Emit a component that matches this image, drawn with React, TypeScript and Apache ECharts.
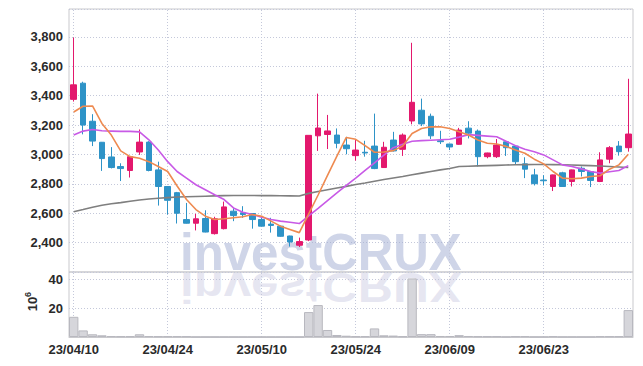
import React, { useEffect, useRef } from 'react';
import * as echarts from 'echarts';

const dates = [
  '23/04/10','23/04/11','23/04/12','23/04/13','23/04/14','23/04/17','23/04/18','23/04/19','23/04/20','23/04/21',
  '23/04/24','23/04/25','23/04/26','23/04/27','23/04/28','23/05/02','23/05/03','23/05/04','23/05/08','23/05/09',
  '23/05/10','23/05/11','23/05/12','23/05/15','23/05/16','23/05/17','23/05/18','23/05/19','23/05/22','23/05/23',
  '23/05/24','23/05/25','23/05/26','23/05/30','23/05/31','23/06/01','23/06/02','23/06/05','23/06/07','23/06/08',
  '23/06/09','23/06/12','23/06/13','23/06/14','23/06/15','23/06/16','23/06/19','23/06/20','23/06/21','23/06/22',
  '23/06/23','23/06/26','23/06/27','23/06/28','23/06/29','23/06/30','23/07/03','23/07/04','23/07/05','23/07/06',
];

const opens = [
  3375, 3485, 3226, 3083, 2983, 2918, 2891, 3017, 3084, 2895,
  2782, 2740, 2557, 2532, 2564, 2461, 2495, 2614, 2603, 2598,
  2557, 2526, 2512, 2445, 2382, 2418, 3127, 3136, 3132, 3064,
  2992, 3015, 3057, 2911, 3098, 3035, 3228, 3301, 3260, 3093,
  3071, 3069, 3179, 3159, 2985, 2985, 3086, 3057, 2936, 2861,
  2826, 2782, 2875, 2816, 2906, 2884, 2816, 2968, 3057, 3046,
];
const closes = [
  3474, 3200, 3091, 2972, 2911, 2904, 2985, 3084, 2891, 2782,
  2688, 2600, 2532, 2562, 2472, 2562, 2643, 2584, 2591, 2557,
  2512, 2517, 2443, 2404, 2407, 3130, 3180, 3160, 3076, 3039,
  3030, 3010, 2904, 3049, 3024, 3132, 3355, 3208, 3127, 3087,
  3051, 3166, 3145, 2985, 3010, 3064, 3046, 2951, 2900, 2801,
  2821, 2861, 2782, 2895, 2884, 2823, 2963, 3046, 3019, 3139,
];
const lows = [
  3360, 3137, 3057, 2888, 2905, 2819, 2843, 2997, 2885, 2652,
  2591, 2530, 2530, 2483, 2470, 2455, 2490, 2546, 2569, 2495,
  2510, 2468, 2440, 2373, 2370, 2410, 3024, 3037, 3042, 3001,
  2958, 2985, 2900, 2908, 3020, 2990, 3205, 3193, 3105, 3071,
  3030, 3066, 3109, 2918, 2974, 2976, 2990, 2929, 2839, 2789,
  2789, 2751, 2780, 2782, 2850, 2778, 2812, 2940, 2992, 3019,
];
const highs = [
  3796, 3495, 3274, 3085, 3050, 2940, 2990, 3170, 3090, 2951,
  2785, 2745, 2670, 2596, 2620, 2576, 2679, 2636, 2648, 2600,
  2580, 2569, 2515, 2447, 2434, 3130, 3414, 3269, 3177, 3120,
  3098, 3093, 3278, 3086, 3154, 3143, 3760, 3380, 3278, 3161,
  3073, 3181, 3226, 3170, 3012, 3105, 3090, 3060, 2981, 2902,
  2859, 2863, 2882, 2897, 2918, 2886, 3015, 3057, 3091, 3515,
];

// volume in millions of shares
const volumes = [
  14.1, 4.6, 1.9, 1.2, 0.6, 0.5, 0.5, 1.9, 0.6, 0.5,
  0.5, 0.5, 0.4, 0.05, 0.05, 0.05, 0.05, 0.05, 0.05, 0.05,
  0.05, 0.05, 0.05, 0.05, 0.05, 17.4, 22.3, 4.9, 1.4, 0.9,
  0.5, 0.5, 6.0, 1.2, 1.0, 0.5, 40.9, 2.0, 2.0, 0.7,
  0.7, 1.3, 0.7, 0.5, 0.4, 0.4, 0.1, 0.5, 0.5, 0.1,
  0.1, 0.4, 0.1, 0.1, 0.1, 0.1, 0.5, 0.5, 0.5, 18.8,
];

const maShort = [
  3289, 3328, 3330, 3211, 3132, 3024, 2985, 2974, 2951, 2918,
  2884, 2785, 2693, 2625, 2580, 2557, 2562, 2569, 2576, 2591,
  2580, 2546, 2512, 2490, 2468, 2596, 2724, 2857, 2988, 3116,
  3103, 3060, 3015, 3017, 3026, 3057, 3143, 3177, 3188, 3188,
  3177, 3154, 3132, 3098, 3076, 3071, 3055, 3030, 3008, 2968,
  2936, 2884, 2839, 2835, 2839, 2850, 2855, 2900, 2929, 3001,
];
const maMid = [
  3132, 3159, 3170, 3161, 3159, 3157, 3157, 3154, 3100, 3030,
  2951, 2884, 2839, 2794, 2760, 2726, 2693, 2636, 2607, 2591,
  2573, 2557, 2546, 2539, 2530, 2582, 2633, 2686, 2738, 2789,
  2839, 2891, 2943, 2995, 3046, 3070, 3090, 3094, 3097, 3100,
  3103, 3118, 3135, 3130, 3125, 3120, 3090, 3060, 3035, 3019,
  2997, 2963, 2929, 2918, 2902, 2884, 2873, 2882, 2891, 2924,
];
const maLong = [
  2610, 2625, 2641, 2654, 2664, 2672, 2681, 2690, 2697, 2702,
  2706, 2710, 2712, 2714, 2716, 2718, 2720, 2721, 2721, 2721,
  2720, 2720, 2719, 2718, 2717, 2735, 2748, 2760, 2772, 2783,
  2795, 2806, 2818, 2830, 2840, 2850, 2862, 2873, 2884, 2895,
  2905, 2918, 2920, 2922, 2924, 2926, 2928, 2930, 2931, 2932,
  2932, 2931, 2930, 2928, 2926, 2924, 2921, 2918, 2915, 2911,
];

const guideDates = ['23/04/10', '23/04/24', '23/05/10', '23/05/24', '23/06/09', '23/06/23'];

const UP = '#e3186d';
const DOWN = '#2e93c7';
const GRID_LINE = '#c4c8da';
const BORDER = '#c9c9cd';
const FONT = 'Liberation Sans, Arial, sans-serif';

export default function App() {
  const ref = useRef<HTMLDivElement>(null);

  useEffect(() => {
    const chart = echarts.init(ref.current as HTMLDivElement, null, { renderer: 'svg' });
    const labelStyle = { fontFamily: FONT, fontSize: 13, fontWeight: 'bold' as const, color: '#2a2a2a' };
    const dotted = { type: [1, 2] as any, color: GRID_LINE, width: 1 };
    const guideLine = {
      silent: true,
      symbol: 'none',
      z: 1,
      label: { show: false },
      lineStyle: dotted,
      emphasis: { disabled: true },
      data: guideDates.map((d) => ({ xAxis: d })),
    };

    chart.setOption({
      animation: false,
      grid: [
        { left: 69, right: 10, top: 9, height: 263, show: true, borderColor: BORDER, borderWidth: 1 },
        { left: 69, right: 10, top: 272, height: 65, show: true, borderColor: BORDER, borderWidth: 1 },
      ],
      xAxis: [
        {
          type: 'category', data: dates, gridIndex: 0, boundaryGap: true,
          axisLine: { show: false }, axisTick: { show: false }, axisLabel: { show: false }, splitLine: { show: false },
        },
        {
          type: 'category', data: dates, gridIndex: 1, boundaryGap: true,
          axisLine: { show: true, lineStyle: { color: BORDER } }, axisTick: { show: false },
          axisLabel: { interval: 9, margin: 6, ...labelStyle },
          splitLine: { show: false },
        },
      ],
      yAxis: [
        {
          type: 'value', gridIndex: 0, min: 2200, max: 3990, interval: 200,
          axisLine: { show: false }, axisTick: { show: false },
          axisLabel: {
            margin: 6, showMinLabel: false, showMaxLabel: false, ...labelStyle,
            formatter: (v: number) => v.toLocaleString('en-US'),
          },
          splitLine: { show: true, lineStyle: dotted },
        },
        {
          type: 'value', gridIndex: 1, min: 0, max: 45.4, interval: 20,
          axisLine: { show: false }, axisTick: { show: false },
          axisLabel: { margin: 6, showMinLabel: false, showMaxLabel: false, ...labelStyle },
          splitLine: { show: true, lineStyle: dotted },
        },
      ],
      graphic: {
        elements: [
          {
            type: 'text', x: 180, y: 252.5, scaleX: 0.965, z: 1, silent: true,
            style: {
              text: 'investCRUX', fontFamily: FONT, fontWeight: 'bold', fontSize: 51,
              fill: 'rgba(160,172,210,0.5)', textAlign: 'left', textVerticalAlign: 'middle',
            },
          },
          {
            type: 'text', x: 180, y: 272.5, scaleX: 0.965, scaleY: -0.85, z: 1, silent: true,
            style: {
              text: 'investCRUX', x: 0, y: -17.7, fontFamily: FONT, fontWeight: 'bold', fontSize: 51,
              fill: 'rgba(190,190,218,0.38)', textAlign: 'left', textVerticalAlign: 'middle',
            },
          },
          {
            type: 'text', x: 32.5, y: 304, rotation: Math.PI / 2, z: 5,
            style: { text: '10', fontFamily: FONT, fontSize: 13, fontWeight: 'bold', fill: '#2a2a2a', textAlign: 'center', textVerticalAlign: 'middle' },
          },
          {
            type: 'text', x: 27.5, y: 294.5, rotation: Math.PI / 2, z: 5,
            style: { text: '6', fontFamily: FONT, fontSize: 9, fontWeight: 'bold', fill: '#2a2a2a', textAlign: 'center', textVerticalAlign: 'middle' },
          },
        ],
      },
      series: [
        {
          type: 'candlestick', xAxisIndex: 0, yAxisIndex: 0, z: 2, barWidth: 6,
          data: opens.map((o, i) => [o, closes[i], lows[i], highs[i]]),
          itemStyle: { color: UP, color0: DOWN, borderColor: UP, borderColor0: DOWN, borderWidth: 1 },
          markLine: guideLine,
        },
        {
          type: 'line', name: 'long', xAxisIndex: 0, yAxisIndex: 0, z: 3, data: maLong,
          symbol: 'none', lineStyle: { color: '#7f7f7f', width: 1.6 },
        },
        {
          type: 'line', name: 'mid', xAxisIndex: 0, yAxisIndex: 0, z: 3, data: maMid,
          symbol: 'none', lineStyle: { color: '#c85ae6', width: 1.6 },
        },
        {
          type: 'line', name: 'short', xAxisIndex: 0, yAxisIndex: 0, z: 3, data: maShort,
          symbol: 'none', lineStyle: { color: '#ee8a50', width: 1.6 },
        },
        {
          type: 'bar', xAxisIndex: 1, yAxisIndex: 1, z: 2, data: volumes, barCategoryGap: '0%',
          itemStyle: { color: '#d6d6db', borderColor: '#b8b8bf', borderWidth: 1 },
          markLine: guideLine,
        },
      ],
    });

    return () => chart.dispose();
  }, []);

  return <div ref={ref} style={{ position: 'absolute', left: 0, top: 0, width: 643, height: 366 }} />;
}
